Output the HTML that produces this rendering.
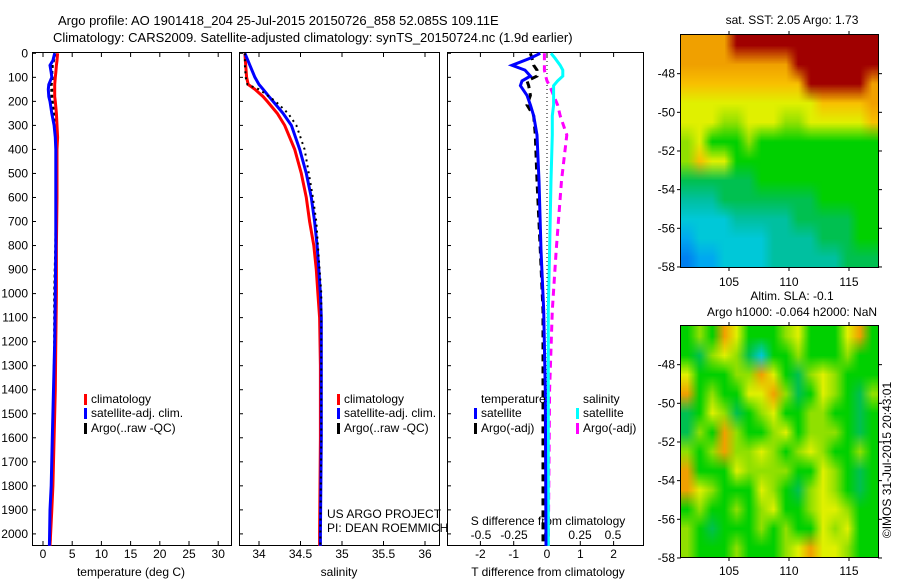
<!DOCTYPE html>
<html><head><meta charset="utf-8">
<style>
body{margin:0;background:#fff;width:900px;height:580px;overflow:hidden;font-family:"Liberation Sans",sans-serif;}
#wrap{position:relative;width:900px;height:580px;}
svg{position:absolute;left:0;top:0;}
canvas{position:absolute;}
</style></head><body>
<div id="wrap">
<canvas id="map1" width="16" height="12" style="left:681px;top:35px;width:197px;height:232px;"></canvas>
<canvas id="map2" width="16" height="12" style="left:681px;top:326px;width:197px;height:231px;"></canvas>
<svg id="chart" width="900" height="580" xmlns="http://www.w3.org/2000/svg" font-family="Liberation Sans, sans-serif" font-size="12">
<text x="58" y="25" font-size="13">Argo profile: AO 1901418_204 25-Jul-2015 20150726_858 52.085S 109.11E</text>
<text x="53" y="42" font-size="13">Climatology: CARS2009. Satellite-adjusted climatology: synTS_20150724.nc (1.9d earlier)</text>
</svg>
</div>
<script>
// ---- data ----
const depthTicks=[0,100,200,300,400,500,600,700,800,900,1000,1100,1200,1300,1400,1500,1600,1700,1800,1900,2000];
const tempTicks=[0,5,10,15,20,25,30];
const salTicks=[34,34.5,35,35.5,36];
const tdiffTicks=[-2,-1,0,1,2];
const sdiffTicks=[-0.5,-0.25,0,0.25,0.5];
const latTicks=[-48,-50,-52,-54,-56,-58];
const lonTicks=[105,110,115];

const tDepth=[0,30,50,80,100,130,150,180,200,250,300,350,400,500,600,800,1000,1200,1400,1600,1800,1900,2050];
const tClim=[2.5,2.4,2.3,2.2,2.1,2.0,2.0,2.0,2.1,2.3,2.4,2.5,2.4,2.4,2.4,2.3,2.3,2.2,2.1,1.9,1.7,1.5,1.2];
const tSat=[2.0,1.7,1.2,1.4,1.5,1.0,0.9,1.0,1.2,1.5,1.9,2.1,2.2,2.2,2.2,2.2,2.1,2.0,1.8,1.6,1.4,1.2,1.1];
const tArgo=[2.1,1.8,1.6,1.5,1.6,1.4,1.5,1.5,1.6,1.8,2.0,2.2,2.3,2.3,2.3,2.2,2.0,2.0,1.9,1.7,1.5,1.3,1.2];

const sDepth=[0,50,100,130,150,180,200,250,300,400,500,600,700,800,900,1000,1100,1300,1600,2000,2050];
const sClim=[33.83,33.84,33.85,33.87,33.95,34.05,34.1,34.22,34.31,34.43,34.51,34.57,34.61,34.66,34.69,34.71,34.73,34.74,34.74,34.73,34.73];
const sSat=[33.83,33.89,33.95,34.0,34.05,34.12,34.17,34.29,34.39,34.49,34.57,34.63,34.67,34.70,34.72,34.74,34.75,34.75,34.75,34.74,34.74];
const sArgo=[33.83,33.83,33.84,33.86,34.0,34.12,34.2,34.35,34.45,34.55,34.6,34.65,34.69,34.71,34.73,34.75,34.75,34.75,34.75,34.74,34.74];

const dDepth=[0,20,50,70,95,115,135,175,215,260,340,530,820,1070,1400,2050];
const dTSat=[-0.2,-0.5,-1.05,-0.66,-0.5,-0.75,-0.8,-0.6,-0.5,-0.4,-0.3,-0.24,-0.18,-0.1,-0.05,-0.03];
const dTArgo=[-0.5,-0.45,-0.4,-0.3,-0.3,-0.6,-0.55,-0.5,-0.6,-0.4,-0.35,-0.3,-0.2,-0.12,-0.12,-0.12];
const dSSat=[0.03,0.06,0.1,0.12,0.12,0.08,0.05,0.05,0.05,0.04,0.04,0.03,0.02,0.01,0.01,0.01];
const dSArgo=[-0.02,-0.02,-0.02,-0.02,-0.01,0,0.02,0.05,0.08,0.1,0.15,0.11,0.07,0.04,0.02,0.01];

// ---- helpers ----
const NS="http://www.w3.org/2000/svg";
const svg=document.getElementById('chart');
function mk(tag,attrs,parent){const e=document.createElementNS(NS,tag);for(const k in attrs)e.setAttribute(k,attrs[k]);(parent||svg).appendChild(e);return e;}
function txt(x,y,s,anchor,size){const t=mk('text',{x:x,y:y,'text-anchor':anchor||'start','font-size':size||12});t.textContent=s;return t;}
const Y=d=>53.3+d*0.2403;
const Xt=v=>43+v*5.84;
const Xs=v=>259+(v-34)*83;
const Xdt=v=>547+v*33.3;
const Xds=v=>547+v*132;
const latY1=l=>35+(-46-l)*19.33;
const latY2=l=>326+(-46-l)*19.33;
const lonX=l=>681+(l-101)*12.0;

// panels
const panels=[[32,231,'temp-panel'],[239,439,'salinity-panel'],[447,643,'difference-panel']];
panels.forEach(p=>{
 const r=mk('rect',{x:p[0]+.5,y:52.5,width:p[1]-p[0],height:493,fill:'none',stroke:'#000','stroke-width':1});
 
 
});
// depth ticks
depthTicks.forEach(d=>{
 const y=Y(d);
 const t=txt(28,y+4,String(d),'end');
 
 
 panels.forEach(p=>{mk('line',{x1:p[0],x2:p[0]+4,y1:y,y2:y,stroke:'#000'});});
});
// x ticks
function xticks(vals,fx,labelY,fmt,len){vals.forEach(v=>{const x=fx(v);
 mk('line',{x1:x,x2:x,y1:53,y2:53+len,stroke:'#000'});
 mk('line',{x1:x,x2:x,y1:545,y2:545-len,stroke:'#000'});
 const t=txt(x,labelY,fmt(v),'middle');
 
 });}
xticks(tempTicks,Xt,558,String,4);
xticks(salTicks,Xs,558,String,4);
xticks(tdiffTicks,Xdt,558,String,4);
sdiffTicks.forEach(v=>{const t=txt(Xds(v),539,String(v),'middle');
 
 });
// axis titles
[[131,'temperature (deg C)','temp-axis-title'],[339,'salinity','salinity-axis-title'],[548,'T difference from climatology','tdiff-axis-title']].forEach(a=>{
 const t=txt(a[0],576,a[1],'middle');
 
 });
let st=txt(548,525,'S difference from climatology','middle');



// series
function line(depths,vals,fx,color,name,dash,w){
 const pts=depths.map((d,i)=>fx(vals[i]).toFixed(1)+','+Y(d).toFixed(1)).join(' ');
 const a={points:pts,fill:'none',stroke:color,'stroke-width':w||3};
 if(dash)a['stroke-dasharray']=dash;
 const e=mk('polyline',a);
 
 
}
line(tDepth,tArgo,Xt,'#000','temp-argo-line','3,3',3);
line(tDepth,tClim,Xt,'#f00','temp-climatology-line');
line(tDepth,tSat,Xt,'#00f','temp-satellite-line');
line(sDepth,sClim,Xs,'#f00','sal-climatology-line');
line(sDepth,sSat,Xs,'#00f','sal-satellite-line');
line(sDepth,sArgo,Xs,'#000','sal-argo-line','2,4',2);
mk('line',{x1:Xdt(0),x2:Xdt(0),y1:53,y2:545,stroke:'#000','stroke-dasharray':'1,3'});
line(dDepth,dTArgo,Xdt,'#000','tdiff-argo-line','7,5',3);
line(dDepth,dSArgo,Xds,'#f0f','sdiff-argo-line','7,5',3);
line(dDepth,dSSat,Xds,'#0ff','sdiff-satellite-line');
line(dDepth,dTSat,Xdt,'#00f','tdiff-satellite-line');

// legends
function leg(x,y,color,label,name){
 mk('rect',{x:x,y:y-9,width:3,height:11,fill:color});
 const t=txt(x+7,y,label);
 
 }
[[84,'legend-temp'],[337,'legend-sal']].forEach(g=>{
 leg(g[0],403,'#f00','climatology',g[1]+'-climatology');
 leg(g[0],417,'#00f','satellite-adj. clim.',g[1]+'-satellite');
 leg(g[0],432,'#000','Argo(..raw -QC)',g[1]+'-argo');});
let lt=txt(481,403,'temperature');
let ls=txt(583,403,'salinity');
leg(474,417,'#00f','satellite','legend-tdiff-satellite');
leg(474,432,'#000','Argo(-adj)','legend-tdiff-argo');
leg(576,417,'#0ff','satellite','legend-sdiff-satellite');
leg(576,432,'#f0f','Argo(-adj)','legend-sdiff-argo');
let u1=txt(327,518,'US ARGO PROJECT');
let u2=txt(327,532,'PI: DEAN ROEMMICH');

// map frames, ticks
function mapAxes(top,bot,latY,lonLabelY,name){
 const r=mk('rect',{x:680.5,y:top-.5,width:198,height:bot-top+1,fill:'none',stroke:'#000'});
 
 
 latTicks.forEach(l=>{const y=latY(l);
  mk('line',{x1:677,x2:681,y1:y,y2:y,stroke:'#000'});
  mk('line',{x1:878,x2:882,y1:y,y2:y,stroke:'#000'});
  const t=txt(675,y+4,String(l),'end');
  
  });
 lonTicks.forEach(l=>{const x=lonX(l);
  mk('line',{x1:x,x2:x,y1:top-4,y2:top,stroke:'#000'});
  mk('line',{x1:x,x2:x,y1:bot,y2:bot+4,stroke:'#000'});
  const t=txt(x,lonLabelY,String(l),'middle');
  
  });
}
mapAxes(35,267,latY1,286,'sst-map-frame');
mapAxes(326,557,latY2,575,'sla-map-frame');
let m1=txt(792,24,'sat. SST: 2.05 Argo: 1.73','middle');
let m2=txt(792,300,'Altim. SLA: -0.1','middle');
let m3=txt(792,316,'Argo h1000: -0.064 h2000: NaN','middle');
let im=txt(0,0,'©IMOS 31-Jul-2015 20:43:01','middle');
im.setAttribute('transform','translate(891,460) rotate(-90)');



// map images (coarse colour grids, smoothed)
const pal={R:'#a00000',O:'#f0a000',o:'#f8c000',Y:'#e0f000',L:'#90e000',G:'#00d000',g:'#00c050',T:'#00c0a0',C:'#00c8d8',B:'#00a8f0',D:'#0080f0',b:'#10a0c0'};
const sstGrid=[
"OOOORRRRRRRRRRRR",
"OOOOOOOOORRRRRRR",
"ooooooooooRRRRRO",
"YYYYYYYYYYYooooO",
"YYYLLYYYLLYYYYYo",
"LYGGGLGGGGGGGGGG",
"LoYYGGGGGGGGGGGG",
"ggggggGGGGGGGGGG",
"TTTggggggggGGGGG",
"CCCCTTTTTgggggGG",
"BCCCCCCTTTTgggGG",
"DBBCCCCTTTTTTggg"];
const slaGrid=[
"GLGOYGGGLYGGGYOG",
"GgLYLgCGGLGGGLGG",
"YGGGLLOYGgLYLGGG",
"OGLGGYYOLgGYLGgL",
"gGYLgGLYGGLLGGgG",
"gLGOLGGLYGLLLGgG",
"LGLOLLYLGLYLGGLG",
"OGGGYLLLLGGYLGgG",
"OYLGGGYLGgLYLGgG",
"GLGGLGLYGGLYYLGG",
"LGgGGGLGLGGYLYGG",
"LGGGLGGGLYOYYLGG"];
function drawMap(id,grid){
 const c=document.getElementById(id),ctx=c.getContext('2d');
 grid.forEach((row,j)=>{for(let i=0;i<row.length;i++){ctx.fillStyle=pal[row[i]];ctx.fillRect(i,j,1,1);}});
}
drawMap('map1',sstGrid);
drawMap('map2',slaGrid);
</script>
</body></html>
